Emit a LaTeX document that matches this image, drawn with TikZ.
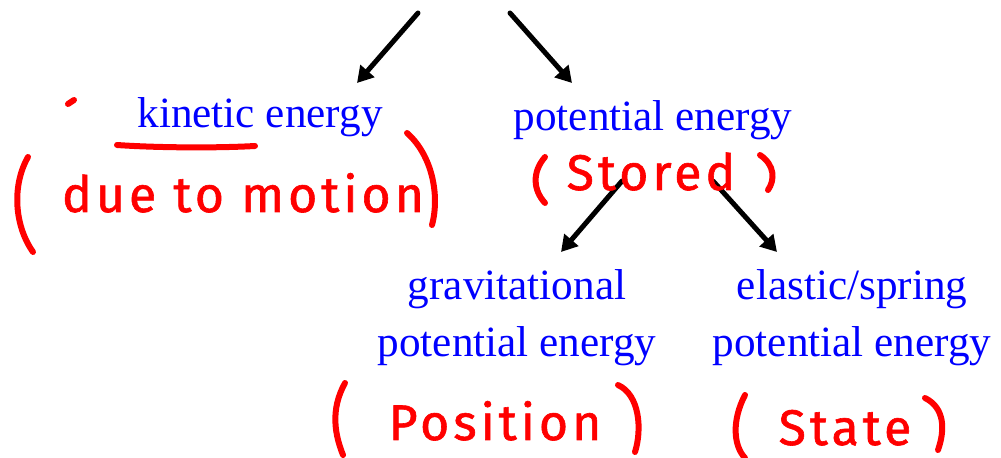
\documentclass[tikz,border=0pt]{standalone}
\usepackage{fontspec}
\setmainfont{Liberation Serif}
\newfontfamily\handfont{Fira Sans}[LetterSpace=8,FakeBold=1.2]
\usetikzlibrary{arrows.meta}

\begin{document}
\begin{tikzpicture}[x=0.5pt, y=-0.5pt,
  term/.style={text=blue, font=\fontsize{21.6pt}{28.5pt}\selectfont, inner sep=0pt, align=center},
  note/.style={text=red, font=\handfont\fontsize{25pt}{30pt}\selectfont, inner sep=0pt},
  branch/.style={draw=black, line width=2.5pt, line cap=round, -{Triangle[length=8pt,width=9pt]}},
  ink/.style={draw=red, line width=3pt, line cap=round, line join=round}]
  \useasboundingbox (0,0) rectangle (1001,458);

  % energy types
  \node[term, anchor=base] (kinetic) at (260,128) {kinetic energy};
  \node[term, anchor=base] (potential) at (653,131) {potential energy};
  \node[term, anchor=base] (grav) at (517,357) {gravitational\\potential energy};
  \node[term, anchor=base] (elastic) at (852,357) {elastic/spring\\potential energy};

  % branches
  \coordinate (top-l) at (418,13);
  \coordinate (kin-tip) at (357,83);
  \coordinate (top-r) at (510,13);
  \coordinate (pot-tip) at (572,83);
  \coordinate (sto-l) at (622,181);
  \coordinate (grav-tip) at (561,252);
  \coordinate (sto-r) at (713,181);
  \coordinate (ela-tip) at (777,252);
  \draw[branch] (top-l) -- (kin-tip);
  \draw[branch] (top-r) -- (pot-tip);
  \draw[branch] (sto-l) -- (grav-tip);
  \draw[branch] (sto-r) -- (ela-tip);

  % handwritten notes
  \node[note, anchor=base] (motion) at (243,212) {due to motion};
  \node[note, anchor=base] (stored) at (651,190) {Stored};
  \node[note, anchor=base] (position) at (495,440) {Position};
  \node[note, anchor=base] (state) at (845,445) {State};

  \draw[ink] (68,104) -- (74,100);
  \draw[ink] (117,145) .. controls (160,148) and (220,148) .. (255,146);
  \draw[ink] (28,157) .. controls (12,185) and (14,225) .. (33,252);
  \draw[ink] (407,133) .. controls (432,155) and (440,195) .. (432,225);
  \draw[ink] (545,157) .. controls (532,172) and (533,190) .. (545,203);
  \draw[ink] (760,155) .. controls (775,165) and (775,180) .. (768,190);
  \draw[ink] (345,383) .. controls (330,410) and (335,435) .. (343,455);
  \draw[ink] (618,385) .. controls (640,395) and (642,430) .. (635,452);
  \draw[ink] (745,395) .. controls (732,420) and (733,445) .. (745,458);
  \draw[ink] (925,398) .. controls (945,408) and (945,430) .. (938,450);
\end{tikzpicture}
\end{document}
